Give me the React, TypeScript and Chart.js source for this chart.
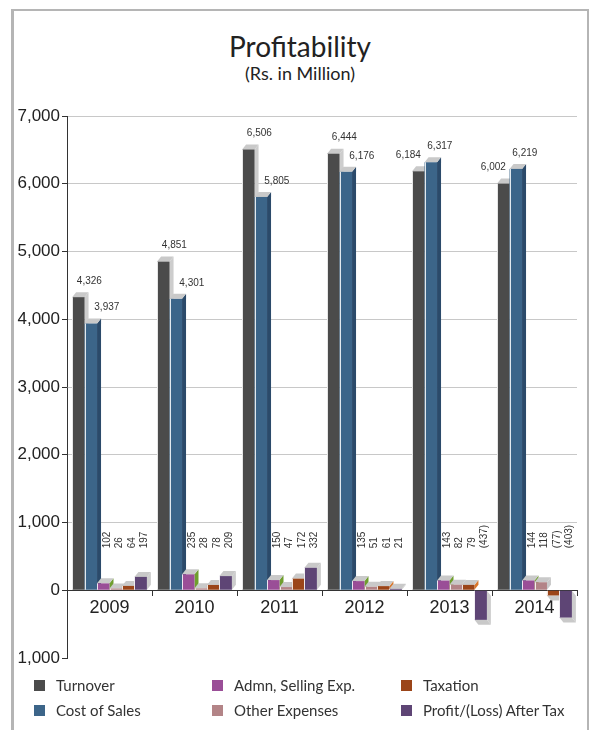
import React, { useEffect, useRef } from "react";
import { Chart, registerables } from "chart.js";

Chart.register(...registerables);

const years = ["2009", "2010", "2011", "2012", "2013", "2014"];
const turnover = [4326, 4851, 6506, 6444, 6184, 6002];
const costOfSales = [3937, 4301, 5805, 6176, 6317, 6219];
const admnSelling = [102, 235, 150, 135, 143, 144];
const otherExpenses = [26, 28, 47, 51, 82, 118];
const taxation = [64, 78, 172, 61, 79, -77];
const profitAfterTax = [197, 209, 332, 21, -437, -403];

const seriesNames = [
  "Turnover",
  "Cost of Sales",
  "Admn, Selling Exp.",
  "Other Expenses",
  "Taxation",
  "Profit/(Loss) After Tax",
];
const seriesValues = [turnover, costOfSales, admnSelling, otherExpenses, taxation, profitAfterTax];
const frontColors = ["#4b4b4b", "#3c6589", "#9a4e97", "#b38487", "#9b4519", "#5e4575"];
const sideColors = ["#cdcdcd", "#2b4a6a", "#6f9e2e", "#c9c9c9", "#d9772b", "#cdcdcd"];
const capColor = "#c9c9c9";

const yMin = -1000;
const yMax = 7000;
const yStep = 1000;

const AXISFONT = '"Liberation Sans", Arial, sans-serif';
const HUMANIST = 'Lato, "Open Sans", sans-serif';

const DX = 4;
const DY = 5;

function fmt(v: number): string {
  const s = Math.abs(v).toLocaleString("en-US");
  return v < 0 ? `(${s})` : s;
}

function poly(ctx: CanvasRenderingContext2D, pts: number[][], fill: string) {
  ctx.beginPath();
  ctx.moveTo(pts[0][0], pts[0][1]);
  for (let k = 1; k < pts.length; k++) ctx.lineTo(pts[k][0], pts[k][1]);
  ctx.closePath();
  ctx.fillStyle = fill;
  ctx.fill();
}

const bar3dPlugin = {
  id: "bar3d",
  beforeDatasetsDraw(chart: any) {
    const ctx: CanvasRenderingContext2D = chart.ctx;
    const zeroY = chart.scales.y.getPixelForValue(0);
    const nCat = chart.data.labels.length;
    const nSet = chart.data.datasets.length;
    ctx.save();
    for (let j = 0; j < nCat; j++) {
      for (let i = 0; i < nSet; i++) {
        const el = chart.getDatasetMeta(i).data[j];
        const { x, y, base, width } = el.getProps(["x", "y", "base", "width"], true);
        const x0 = x - width / 2;
        const x1 = x + width / 2;
        const neg = y > base;
        const top = Math.min(y, base);
        const bot = Math.max(y, base);
        if (!neg) {
          poly(ctx, [[x1, bot], [x1 + DX, bot - DY], [x1 + DX, top - DY], [x1, top]], sideColors[i]);
          poly(ctx, [[x0, top], [x1, top], [x1 + DX, top - DY], [x0 + DX, top - DY]], capColor);
        } else {
          poly(ctx, [[x1, top], [x1 + DX, top + DY], [x1 + DX, bot + DY], [x1, bot]], sideColors[i]);
          poly(ctx, [[x0, bot], [x1, bot], [x1 + DX, bot + DY], [x0 + DX, bot + DY]], capColor);
        }
        ctx.fillStyle = frontColors[i];
        ctx.fillRect(x0, top, width, bot - top);
        ctx.strokeStyle = "rgba(255,255,255,0.85)";
        ctx.lineWidth = 1;
        ctx.beginPath();
        ctx.moveTo(Math.round(x0) + 0.5, bot);
        ctx.lineTo(Math.round(x0) + 0.5, top);
        ctx.stroke();
      }
    }
    // data labels
    ctx.fillStyle = "#333";
    ctx.font = `10px ${AXISFONT}`;
    for (let j = 0; j < nCat; j++) {
      const t = chart.getDatasetMeta(0).data[j];
      const c = chart.getDatasetMeta(1).data[j];
      const tv = chart.data.datasets[0].data[j];
      const cv = chart.data.datasets[1].data[j];
      const tallFirst = tv >= cv;
      ctx.textAlign = "center";
      ctx.textBaseline = "middle";
      ctx.fillText(fmt(tv), t.x + (tallFirst ? 11 : -10), t.y - 16);
      ctx.fillText(fmt(cv), c.x + (tallFirst ? 16 : 9), c.y - 16);
      for (let i = 2; i < nSet; i++) {
        const el = chart.getDatasetMeta(i).data[j];
        const v = chart.data.datasets[i].data[j];
        ctx.save();
        ctx.translate(el.x + 4, zeroY - 42);
        ctx.rotate(-Math.PI / 2);
        ctx.textAlign = "left";
        ctx.textBaseline = "middle";
        ctx.fillText(fmt(v), 0, 0);
        ctx.restore();
      }
    }
    ctx.restore();
    return false;
  },
};

export default function App() {
  const canvasRef = useRef<HTMLCanvasElement | null>(null);

  useEffect(() => {
    if (!canvasRef.current) return;
    const chart = new Chart(canvasRef.current, {
      type: "bar",
      data: {
        labels: years,
        datasets: seriesNames.map((name, i) => ({
          label: name,
          data: seriesValues[i],
          backgroundColor: frontColors[i],
          barPercentage: 1,
          categoryPercentage: 0.88,
        })),
      },
      options: {
        responsive: false,
        animation: false,
        devicePixelRatio: 1,
        layout: { padding: { left: 0, right: 13, top: 116, bottom: 72 } },
        plugins: {
          legend: { display: false },
          tooltip: { enabled: false },
          title: { display: false },
        },
        scales: {
          x: {
            position: { y: 0 } as any,
            offset: true,
            grid: {
              display: true,
              drawOnChartArea: false,
              drawTicks: true,
              tickLength: 5,
              color: "#333",
              offset: true,
            },
            border: { display: true, color: "#333", width: 1 },
            ticks: { font: { family: AXISFONT, size: 18 }, color: "#222", padding: 2 },
            afterFit: (s: any) => {
              s.height = 0;
            },
          },
          y: {
            min: yMin,
            max: yMax,
            ticks: {
              stepSize: yStep,
              font: { family: AXISFONT, size: 17 },
              color: "#222",
              padding: 2,
              callback: (v: any) => Math.abs(Number(v)).toLocaleString("en-US"),
            },
            grid: {
              color: (c: any) => (c.tick && c.tick.value > 0 ? "#c8c8c8" : "rgba(0,0,0,0)"),
              tickColor: "#333",
              tickLength: 5,
              lineWidth: 1,
            },
            border: { display: true, color: "#333", width: 1 },
            afterFit: (s: any) => {
              s.width = 67;
            },
          },
        },
      },
      plugins: [bar3dPlugin],
    });
    return () => chart.destroy();
  }, []);

  const legendCols = [34, 212, 401];
  const legendRows = [685, 710];

  return (
    <div style={{ position: "absolute", left: 0, top: 0, width: 590, height: 730, overflow: "hidden", background: "#fff" }}>
      <div
        style={{
          position: "absolute",
          left: 11,
          top: 9,
          width: 578,
          height: 740,
          border: "2px solid #b5b5b5",
          borderLeftWidth: 3,
          boxSizing: "border-box",
        }}
      />
      <div
        style={{
          position: "absolute",
          left: 0,
          top: 29,
          width: 600,
          textAlign: "center",
          fontFamily: HUMANIST,
          fontSize: 28,
          fontWeight: 400,
          lineHeight: "34px",
          color: "#222",
        }}
      >
        Profitability
      </div>
      <div
        style={{
          position: "absolute",
          left: 0,
          top: 62,
          width: 600,
          textAlign: "center",
          fontFamily: HUMANIST,
          fontSize: 18,
          fontWeight: 400,
          lineHeight: "22px",
          color: "#222",
        }}
      >
        (Rs. in Million)
      </div>
      <canvas ref={canvasRef} width={590} height={730} style={{ position: "absolute", left: 0, top: 0, width: 590, height: 730 }} />
      {seriesNames.map((name, i) => {
        const col = Math.floor(i / 2);
        const row = i % 2;
        return (
          <div
            key={name}
            style={{
              position: "absolute",
              left: legendCols[col],
              top: legendRows[row] - 10,
              height: 20,
              display: "flex",
              alignItems: "center",
              fontFamily: HUMANIST,
              fontSize: 15,
              color: "#333",
              whiteSpace: "nowrap",
            }}
          >
            <span style={{ display: "inline-block", width: 11, height: 11, background: frontColors[i], marginRight: 11 }} />
            {name}
          </div>
        );
      })}
    </div>
  );
}
